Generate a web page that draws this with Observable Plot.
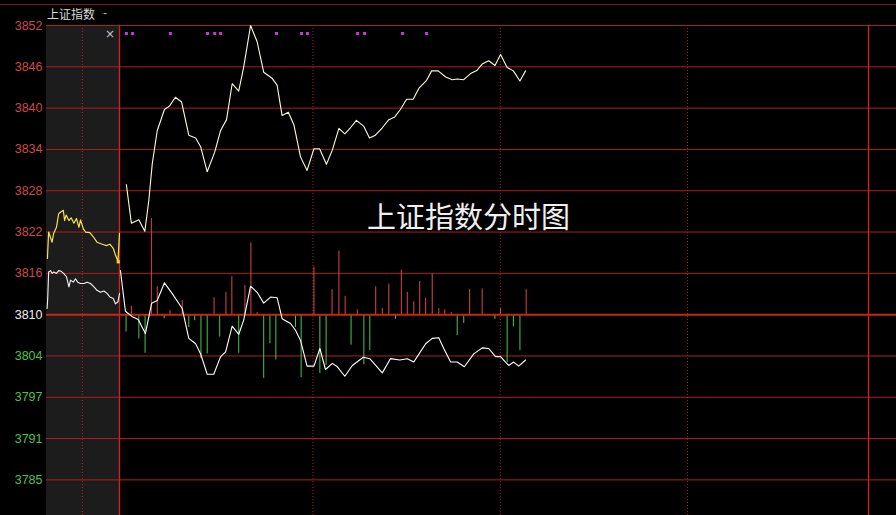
<!DOCTYPE html>
<html><head><meta charset="utf-8">
<script src="https://cdn.jsdelivr.net/npm/d3@7"></script>
<script src="https://cdn.jsdelivr.net/npm/@observablehq/plot@0.6"></script>
<style>
html,body{margin:0;padding:0;background:#000;}
#wrap{position:relative;width:896px;height:515px;overflow:hidden;background:#000;}
#topline{position:absolute;left:0;top:4px;width:896px;height:1px;background:#7a1818;}
#name{position:absolute;left:47px;top:5px;font:12px "Noto Sans CJK SC",sans-serif;color:#d8d8d8;line-height:18px;}
#dash{position:absolute;left:103px;top:5px;font:12px "Liberation Sans",sans-serif;color:#bbb;line-height:16px;}
#close{position:absolute;left:105px;top:27px;font:12px "DejaVu Sans",sans-serif;color:#c8c8c8;line-height:14px;}
</style>
</head><body>
<div id="wrap"><div id="chart"></div><div id="topline"></div><div id="name">上证指数</div><div id="dash">-</div><div id="close">×</div></div>
<script>
// ---------- data ----------
const chartTitle = "上证指数分时图";
const yTickValues = [3852.7, 3846.6, 3840.5, 3834.4, 3828.3, 3822.2, 3816.1, 3810, 3803.9, 3797.8, 3791.7, 3785.6];
const yTickLabels = ["3852", "3846", "3840", "3834", "3828", "3822", "3816", "3810", "3804", "3797", "3791", "3785"];
const baseline = 3810;

const sessionSolid = [0, 240];
const sessionDotted = [62, 122, 182, -11.9];
const prevStart = -23.39;

// previous session tail (gray area)
const prevPriceMin = [-23.1,-22.7,-22.1,-21.6,-21.1,-20.2,-19.5,-18.7,-18.0,-17.6,-17.1,-16.2,-15.5,-14.6,-13.8,-13.0,-12.5,-11.6,-10.9,-9.5,-8.4,-7.2,-5.5,-4.2,-3.1,-2.0,-1.3,-0.5,0];
const prevPriceVal = [3818.3,3822.2,3821.4,3820.7,3822.0,3822.9,3824.9,3825.2,3825.4,3823.9,3824.7,3823.9,3824.3,3823.5,3824.2,3822.9,3824.0,3822.7,3822.2,3822.1,3821.5,3820.7,3820.4,3820.2,3820.4,3819.8,3818.8,3817.9,3822.0];
const prevLeadMin = [-23.2,-23.0,-22.7,-22.1,-21.6,-21.1,-20.2,-19.5,-18.7,-17.9,-17.0,-16.2,-15.7,-14.8,-14.1,-13.4,-12.5,-11.4,-10.4,-9.3,-8.2,-7.2,-6.1,-5.0,-3.9,-3.1,-2.0,-1.3,-0.5,0];
const prevLeadVal = [3810.9,3812.4,3816.3,3816.5,3816.1,3816.3,3816.1,3816.5,3816.4,3816.1,3815.6,3814.1,3815.1,3814.8,3815.3,3814.8,3814.6,3814.6,3814.8,3814.6,3814.1,3813.6,3813.3,3813.5,3813.1,3812.6,3812.4,3811.6,3811.9,3813.1];
const prevEndMarker = [{m: -0.4, v: 3817.8}];

// current session
const priceMin = [2.2,3.8,6.2,8.1,9.4,10.5,12.1,14.4,16.0,17.9,19.9,22.2,24.4,26.0,28.1,30.5,32.4,34.3,36.1,38.2,39.8,42.0,44.1,46.2,48.9,50.5,52.1,54.1,55.9,58.0,60.1,62.3,64.1,66.3,68.2,70.3,72.2,74.0,75.9,78.3,80.1,82.0,84.2,86.3,88.2,90.0,92.0,94.1,95.9,98.4,100.0,102.1,104.5,106.6,108.2,110.3,112.5,114.6,116.2,118.3,120.3,122.1,124.2,126.2,128.3,130.1];
const priceVal = [3829.2,3823.5,3824.0,3822.3,3826.9,3832.3,3837.2,3840.3,3840.8,3842.1,3841.4,3836.5,3836.1,3834.8,3831.1,3834.0,3837.2,3838.8,3844.1,3843.0,3846.6,3852.7,3850.3,3845.8,3844.9,3843.9,3839.4,3839.9,3838.0,3833.3,3831.3,3834.5,3834.5,3832.2,3834.3,3837.5,3836.7,3837.6,3838.7,3837.8,3836.1,3836.5,3837.6,3838.8,3839.2,3840.3,3841.8,3841.8,3843.4,3844.6,3846.0,3846.0,3845.1,3844.7,3844.8,3844.7,3845.6,3846.1,3847.0,3847.5,3846.8,3848.4,3846.5,3846.0,3844.5,3846.0];
const leadMin = [0.3,1.9,4.1,6.0,8.3,10.3,12.1,14.4,16.9,20.1,22.2,24.4,26.0,28.1,30.2,32.4,34.0,36.1,38.2,39.8,42.0,44.1,46.2,48.4,50.5,52.1,54.8,56.4,58.0,60.1,62.3,64.2,66.0,68.2,69.8,72.2,74.6,78.1,80.2,84.2,86.8,89.8,92.2,94.3,95.4,98.1,100.2,102.3,103.9,106.1,108.2,110.5,113.5,116.2,118.3,120.5,122.1,123.7,124.7,126.3,127.9,130.1];
const leadVal = [3816.5,3810.5,3809.7,3809.3,3807.2,3811.7,3812.1,3814.7,3813.1,3810.9,3806.5,3805.7,3804.2,3801.2,3801.2,3803.8,3804.5,3808.3,3807.1,3809.2,3814.2,3813.3,3811.7,3812.6,3812.5,3809.4,3808.7,3807.7,3806.2,3802.4,3802.4,3805.0,3801.9,3802.8,3802.3,3800.9,3802.5,3803.7,3803.5,3801.4,3803.5,3803.3,3803.5,3803.0,3803.8,3805.7,3806.5,3806.6,3805.0,3803.0,3803.0,3802.3,3804.2,3805.1,3805.0,3803.8,3803.8,3803.0,3802.5,3803.0,3802.4,3803.3];

const upBarMin = [3.8,10.2,12.1,16.2,20.1,30.3,34.1,36.0,40.2,42.1,44.1,62.3,68.1,70.3,72.3,76.2,82.1,84.2,86.3,90.3,92.2,94.3,96.2,98.1,100.2,102.3,104.2,106.3,112.2,116.2,122.1,130.3];
const upBarVal = [3811.2,3824.2,3814.1,3810.6,3812.1,3812.5,3813.3,3815.6,3814.3,3820.6,3810.3,3817.0,3813.7,3819.4,3812.7,3810.7,3814.1,3810.9,3814.5,3816.6,3813.3,3811.9,3814.9,3812.4,3816.0,3810.9,3810.7,3810.3,3813.7,3813.8,3810.9,3813.7];
const downBarMin = [2.1,6.2,8.2,14.3,22.2,24.1,26.1,28.1,32.1,38.2,46.2,48.2,50.1,56.4,58.2,64.2,66.2,74.2,78.3,80.2,88.4,108.2,110.3,120.3,124.2,126.2,128.3];
const downBarVal = [3807.4,3806.4,3804.3,3809.4,3808.1,3809.1,3803.5,3804.2,3806.7,3804.3,3800.6,3805.7,3803.3,3808.1,3800.7,3801.3,3802.5,3805.5,3802.6,3804.7,3809.3,3806.9,3808.7,3809.3,3802.9,3808.2,3804.7];

const signalMin = [2.2,4.2,16.3,28.2,30.5,32.4,50.3,58.3,60.2,76.3,78.5,90.7,98.4];

// ---------- build ----------
const zip = (xs, ys) => xs.map((m, i) => ({m, v: ys[i]}));
const prevPrice = zip(prevPriceMin, prevPriceVal);
const prevLead = zip(prevLeadMin, prevLeadVal);
const price = zip(priceMin, priceVal);
const lead = zip(leadMin, leadVal);
const upBars = zip(upBarMin, upBarVal);
const downBars = zip(downBarMin, downBarVal);
const ticks = yTickValues.map((v, i) => ({v, label: yTickLabels[i]}));
const upTicks = ticks.filter(d => d.v > baseline + 0.5);
const midTicks = ticks.filter(d => Math.abs(d.v - baseline) < 0.5);
const downTicks = ticks.filter(d => d.v < baseline - 0.5);
const gridOther = yTickValues.filter(v => Math.abs(v - baseline) > 0.5);

const axisFont = "'Liberation Sans', Arial, sans-serif";

const chart = Plot.plot({
  width: 896,
  height: 515,
  marginLeft: 46,
  marginRight: 0,
  marginTop: 25,
  marginBottom: 0,
  style: {background: "#000", color: "#ccc", overflow: "visible"},
  x: {domain: [prevStart, 248.96], axis: null},
  y: {domain: [3780.34, 3852.7], axis: null},
  marks: [
    Plot.rect([0], {x1: prevStart, x2: 0, fill: "#1c1c1c"}),
    Plot.ruleY(gridOther, {stroke: "#b01e1e", strokeWidth: 1}),
    Plot.ruleX(sessionDotted, {stroke: "#a82222", strokeWidth: 1, strokeDasharray: "1,2"}),
    Plot.ruleX(sessionSolid, {stroke: "#d02020", strokeWidth: 1.4}),
    Plot.ruleX(upBars, {x: "m", y1: baseline, y2: "v", stroke: "#dc4848", strokeWidth: 1}),
    Plot.ruleX(downBars, {x: "m", y1: baseline, y2: "v", stroke: "#48c848", strokeWidth: 1}),
    Plot.ruleY([baseline], {stroke: "#c42a0c", strokeWidth: 2}),
    Plot.line(prevLead, {x: "m", y: "v", stroke: "#f4f4f4", strokeWidth: 1.1}),
    Plot.line(prevPrice, {x: "m", y: "v", stroke: "#f2e452", strokeWidth: 1.2}),
    Plot.dot(prevEndMarker, {x: "m", y: "v", symbol: "square", r: 1.8, fill: "#f2d230"}),
    Plot.line(lead, {x: "m", y: "v", stroke: "#ffffff", strokeWidth: 1.1}),
    Plot.line(price, {x: "m", y: "v", stroke: "#fffbd2", strokeWidth: 1.1}),
    Plot.dot(signalMin, {x: d => d, frameAnchor: "top", dy: 8, symbol: "square", r: 1.7, fill: "#c63ad2"}),
    Plot.text(upTicks, {y: "v", text: "label", frameAnchor: "left", textAnchor: "end", dx: -4, fill: "#cc4a4a", fontSize: 12.5, fontFamily: axisFont}),
    Plot.text(midTicks, {y: "v", text: "label", frameAnchor: "left", textAnchor: "end", dx: -4, fill: "#f0f0f0", fontSize: 12.5, fontFamily: axisFont}),
    Plot.text(downTicks, {y: "v", text: "label", frameAnchor: "left", textAnchor: "end", dx: -4, fill: "#4cc24c", fontSize: 12.5, fontFamily: axisFont}),
    Plot.text([chartTitle], {frameAnchor: "middle", dx: -3, dy: -52, fill: "#f0f0f0", fontSize: 29, fontFamily: "'Noto Sans CJK SC', sans-serif"})
  ]
});
document.getElementById("chart").appendChild(chart);
</script>
</body></html>
